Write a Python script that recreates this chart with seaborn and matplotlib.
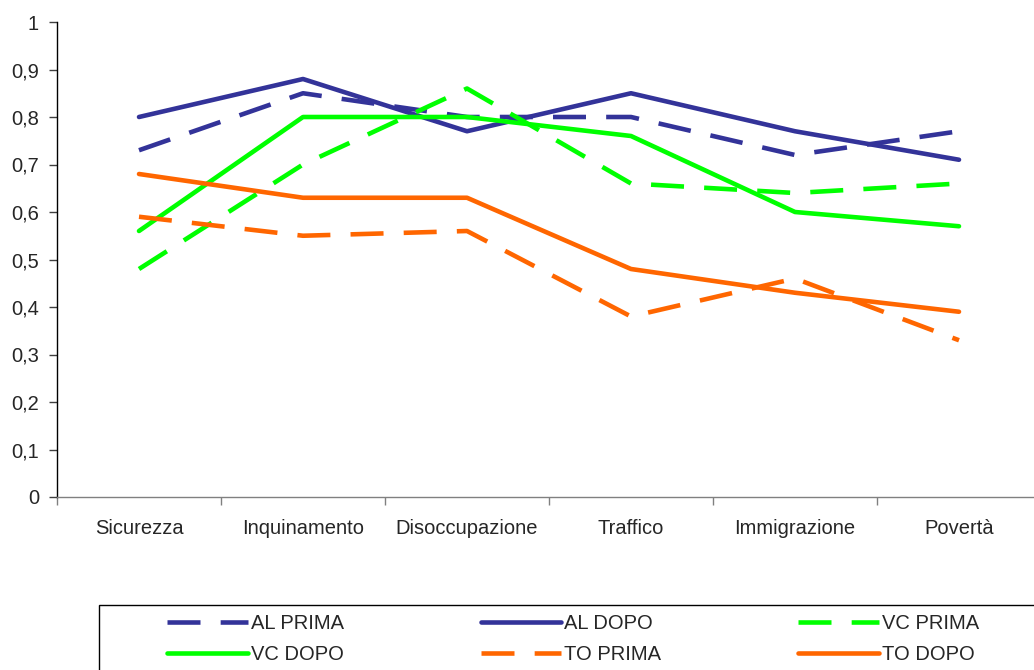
import matplotlib
matplotlib.use("Agg")
import matplotlib.pyplot as plt
from matplotlib.patches import Rectangle
from matplotlib.ticker import FuncFormatter, FixedLocator
import seaborn as sns
import pandas as pd

categories = ["Sicurezza", "Inquinamento", "Disoccupazione", "Traffico", "Immigrazione", "Povertà"]

al_prima = [0.73, 0.85, 0.80, 0.80, 0.72, 0.77]
al_dopo = [0.80, 0.88, 0.77, 0.85, 0.77, 0.71]
vc_prima = [0.48, 0.70, 0.86, 0.66, 0.64, 0.66]
vc_dopo = [0.56, 0.80, 0.80, 0.76, 0.60, 0.57]
to_prima = [0.59, 0.55, 0.56, 0.38, 0.46, 0.33]
to_dopo = [0.68, 0.63, 0.63, 0.48, 0.43, 0.39]

series_names = ["AL PRIMA", "AL DOPO", "VC PRIMA", "VC DOPO", "TO PRIMA", "TO DOPO"]
series_values = [al_prima, al_dopo, vc_prima, vc_dopo, to_prima, to_dopo]

NAVY = "#333399"
GREEN = "#00FF00"
ORANGE = "#FF6600"
colors = [NAVY, NAVY, GREEN, GREEN, ORANGE, ORANGE]
DASH = (0, (7.2, 4.4))
styles = [DASH, "-", DASH, "-", DASH, "-"]

sns.set_style("white")
plt.rcParams["font.family"] = ["Liberation Sans", "DejaVu Sans"]
plt.rcParams["font.size"] = 14.5

W, H = 1034, 670
fig = plt.figure(figsize=(W / 100, H / 100), dpi=100)
ax = fig.add_axes([57 / W, 1 - 497 / H, 984 / W, 475 / H])

positions = list(range(len(categories)))
for name, vals, col, ls in zip(series_names, series_values, colors, styles):
    df = pd.DataFrame({"pos": positions, "val": vals})
    sns.lineplot(data=df, x="pos", y="val", ax=ax, color=col, linestyle=ls,
                 linewidth=3.3, label=name, solid_capstyle="round",
                 dash_capstyle="butt", legend=False)

ax.set_xlim(-0.5, len(categories) - 0.5)
ax.set_ylim(0, 1)
ax.set_xlabel("")
ax.set_ylabel("")

ax.set_yticks([i / 10 for i in range(11)])
ax.yaxis.set_major_formatter(FuncFormatter(
    lambda v, _: "0" if abs(v) < 1e-9 else ("1" if abs(v - 1) < 1e-9 else f"{v:.1f}".replace(".", ","))))
ax.tick_params(axis="y", which="major", direction="out", length=6, width=1,
               color="#404040", pad=7, labelsize=14.5, left=True)

ax.set_xticks(positions)
ax.set_xticklabels(categories)
ax.tick_params(axis="x", which="major", length=0, pad=16, labelsize=14.5)
ax.xaxis.set_minor_locator(FixedLocator([p - 0.5 for p in range(len(categories) + 1)]))
ax.tick_params(axis="x", which="minor", direction="out", length=6, width=1,
               color="#808080", bottom=True)

for side in ["top", "right"]:
    ax.spines[side].set_visible(False)
ax.spines["left"].set_color("black")
ax.spines["left"].set_linewidth(1.0)
ax.spines["bottom"].set_color("#808080")
ax.spines["bottom"].set_linewidth(1.0)
ax.grid(False)

# legend frame box running off the right and bottom edges
fig.patches.append(Rectangle((99 / W, -0.2), 1.0, 1.2 - 605 / H,
                             transform=fig.transFigure, fill=False,
                             edgecolor="black", linewidth=1.0))

# legend fills row by row: reorder for matplotlib's column-wise layout
handles, labels = ax.get_legend_handles_labels()
order = [0, 3, 1, 4, 2, 5]
fig.legend([handles[i] for i in order], [labels[i] for i in order], loc="upper left",
           bbox_to_anchor=(167 / W, 1 - 614 / H), bbox_transform=fig.transFigure,
           ncol=3, frameon=False, borderpad=0, borderaxespad=0,
           handlelength=4.0, handletextpad=0.15, columnspacing=6.8,
           labelspacing=0.62, fontsize=14.5)

fig.savefig("out.png", dpi=100)
